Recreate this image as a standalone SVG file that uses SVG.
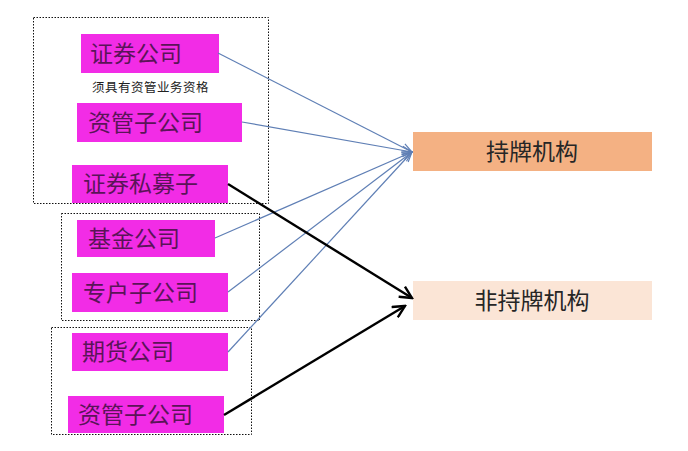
<svg xmlns="http://www.w3.org/2000/svg" width="688" height="451" viewBox="0 0 688 451">
<style>
.grp{fill:none;stroke:#111;stroke-width:1;stroke-dasharray:1.5 1.5}
.mag{fill:#f22ce6}
.t{font-family:"Noto Sans CJK SC","Noto Sans",sans-serif;font-size:23px;fill:#5a1458}
.tr{font-family:"Noto Sans CJK SC","Noto Sans",sans-serif;font-size:23px;fill:#262626;text-anchor:middle}
.sub{font-family:"Noto Sans CJK SC","Noto Sans",sans-serif;font-size:12.5px;fill:#222;letter-spacing:0.5px}
.blue{stroke:#5f7fb5;stroke-width:1.2;fill:none}
.blk{stroke:#000;stroke-width:2.4;fill:none}
</style>
<defs>
<marker id="ab" markerWidth="12" markerHeight="10" refX="11" refY="5" orient="auto" markerUnits="userSpaceOnUse">
<path d="M1,1 L11,5 L1,9" fill="none" stroke="#5f7fb5" stroke-width="1.2"/>
</marker>
<marker id="ak" markerWidth="16" markerHeight="14" refX="14" refY="7" orient="auto" markerUnits="userSpaceOnUse">
<path d="M2,1 L14,7 L2,13" fill="none" stroke="#000" stroke-width="2.4"/>
</marker>
</defs>
<rect width="688" height="451" fill="#fff"/>
<g id="groups">
<rect class="grp" x="33.5" y="17.5" width="235" height="186"/>
<rect class="grp" x="61.5" y="213.5" width="198" height="107"/>
<rect class="grp" x="51.5" y="327.5" width="200" height="107"/>
</g>
<g id="n1"><rect class="mag" x="81" y="34" width="138" height="39"/><text class="t" x="90" y="62">证券公司</text></g>
<text class="sub" x="92" y="92">须具有资管业务资格</text>
<g id="n2"><rect class="mag" x="77" y="103" width="165" height="39"/><text class="t" x="88" y="131">资管子公司</text></g>
<g id="n3"><rect class="mag" x="72" y="165" width="156" height="38"/><text class="t" x="83" y="192">证券私募子</text></g>
<g id="n4"><rect class="mag" x="77" y="220" width="138" height="37"/><text class="t" x="88" y="247">基金公司</text></g>
<g id="n5"><rect class="mag" x="72" y="273" width="156" height="39"/><text class="t" x="83" y="301">专户子公司</text></g>
<g id="n6"><rect class="mag" x="72" y="333" width="156" height="38"/><text class="t" x="82" y="360">期货公司</text></g>
<g id="n7"><rect class="mag" x="68" y="396" width="156" height="37"/><text class="t" x="78" y="423">资管子公司</text></g>
<g id="licensed"><rect x="413" y="132" width="239" height="39" fill="#f4b183"/><text class="tr" x="532" y="160">持牌机构</text></g>
<g id="unlicensed"><rect x="413" y="281" width="239" height="39" fill="#fbe5d6"/><text class="tr" x="532" y="309">非持牌机构</text></g>
<g id="connectors">
<line class="blue" x1="218" y1="53" x2="412" y2="152" marker-end="url(#ab)"/>
<line class="blue" x1="242" y1="122" x2="412" y2="152" marker-end="url(#ab)"/>
<line class="blue" x1="215" y1="238" x2="412" y2="152" marker-end="url(#ab)"/>
<line class="blue" x1="228" y1="292" x2="412" y2="152" marker-end="url(#ab)"/>
<line class="blue" x1="228" y1="352" x2="412" y2="152" marker-end="url(#ab)"/>
<line class="blk" x1="228" y1="184" x2="412" y2="298" marker-end="url(#ak)"/>
<line class="blk" x1="224" y1="415" x2="405" y2="306" marker-end="url(#ak)"/>
</g>
</svg>
